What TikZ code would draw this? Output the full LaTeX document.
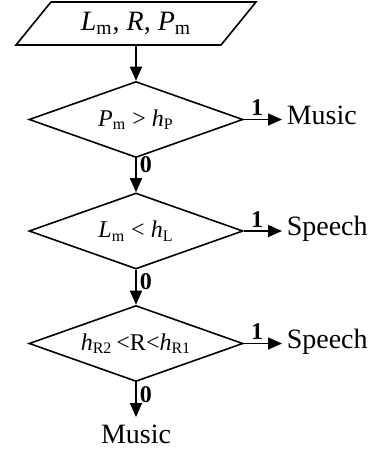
\documentclass[tikz,border=0pt]{standalone}
\usepackage{fontspec}
\setmainfont{Liberation Serif}
\usetikzlibrary{arrows.meta,shapes.geometric,positioning}
\tikzset{every picture/.style={line width=0.8pt}}

\begin{document}
\begin{tikzpicture}[x=0.5pt,y=-0.5pt,
    io/.style={draw, trapezium, trapezium left angle=45, trapezium right angle=135,
        trapezium stretches=true, minimum width=120.5pt, minimum height=21.5pt,
        inner sep=0pt, font=\fontsize{14}{16}\selectfont},
    decision/.style={draw, diamond, aspect=2.8, inner sep=0pt,
        minimum width=107pt, minimum height=38pt, font=\fontsize{12}{14}\selectfont},
    result/.style={inner sep=2pt, font=\fontsize{14}{16}\selectfont},
    branch/.style={inner sep=1.5pt, font=\fontsize{12}{14}\selectfont\bfseries},
    flow/.style={-{Triangle[length=7pt,width=6pt]}}]
    \useasboundingbox (0,0) rectangle (371,450);

    % Input
    \node[io] (input) at (136,23.5) {\textit{L}\textsubscript{m}, \textit{R}, \textit{P}\textsubscript{m}};

    % Decisions
    \node[decision] (pm) at (136,119.5) {\textit{P}\textsubscript{m} > \textit{h}\textsubscript{P}};
    \node[decision] (lm) at (136,231) {\textit{L}\textsubscript{m} < \textit{h}\textsubscript{L}};
    \node[decision] (rr) at (136,343.5) {\textit{h}\textsubscript{R2}\,<R<\textit{h}\textsubscript{R1}};

    % Results
    \node[result, anchor=mid west] (music1) at (282,119.5) {Music};
    \node[result, anchor=mid west] (speech1) at (282,231) {Speech};
    \node[result, anchor=mid west] (speech2) at (282,343.5) {Speech};
    \node[result, anchor=north, inner sep=3.5pt] (music2) at (136,417) {Music};

    % Flow
    \draw[flow] (input) -- (pm);
    \draw[flow] (pm) -- node[branch, right, pos=0.2] {0} (lm);
    \draw[flow] (lm) -- node[branch, right, pos=0.35] {0} (rr);
    \draw[flow] (rr) -- node[branch, right, pos=0.35] {0} (music2);

    \draw[flow] (pm.east) -- node[branch, above, pos=0.35] {1} (music1.mid west);
    \draw[flow] (lm.east) -- node[branch, above, pos=0.35] {1} (speech1.mid west);
    \draw[flow] (rr.east) -- node[branch, above, pos=0.35] {1} (speech2.mid west);
\end{tikzpicture}
\end{document}
